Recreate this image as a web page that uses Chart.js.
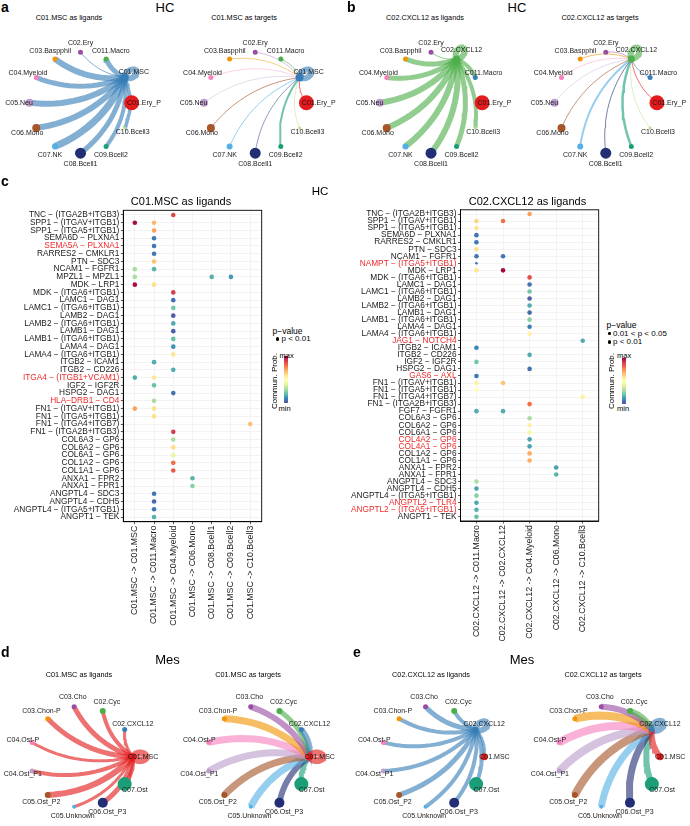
<!DOCTYPE html>
<html><head><meta charset="utf-8">
<script src="https://cdn.jsdelivr.net/npm/chart.js@4.4.1/dist/chart.umd.min.js"></script>
<style>
html,body{margin:0;padding:0;background:#fff}
body{width:690px;height:826px;position:relative;overflow:hidden;font-family:"Liberation Sans",Arial,sans-serif;color:#000}
canvas{position:absolute}
.t{position:absolute;line-height:1;white-space:nowrap}
</style></head><body>
<script>
// ================= DATA =================
const palette = ['#E41A1C','#377EB8','#4DAF4A','#984EA3','#F29403','#F781BF','#BC9DCC','#A65628','#54B0E4','#222F75','#1B9E77','#B2DF8A'];

// HC circle plots (panels a, b)
const hcGroupsA = ["C01.Ery_P","C01.MSC","C011.Macro","C02.Ery","C03.Baspphil","C04.Myeloid","C05.Neu","C06.Mono","C07.NK","C08.Bcell1","C09.Bcell2","C10.Bcell3"];
const hcGroupsB = ["C01.Ery_P","C011.Macro","C02.CXCL12","C02.Ery","C03.Baspphil","C04.Myeloid","C05.Neu","C06.Mono","C07.NK","C08.Bcell1","C09.Bcell2","C10.Bcell3"];
const hcSizesA = [7.5,4,2.5,2.5,2.5,2.5,4,4,3,5.5,2.5,1.5];
const hcSizesB = [7.5,2.5,3.5,2.5,2.5,2.5,4,4,3,5.5,2.5,1.5];
const aLigandW = [0,6,5,1,6,5,6,6,7,5,4,3.5];
const aTargetW = [1,6,1,0.6,0.8,0.6,0.6,1,1,0.8,2,0.8];
const bLigandW = [0,4,6,1,5,5,6,6,6,6,5,4];
const bTargetW = [1,1,6,0.8,1,0.6,0.6,1,2,1,2.5,0.8];

// Mes circle plots (panels d, e)
const mesGroups = ["C01.MSC","C02.CXCL12","C02.Cyc","C03.Cho","C03.Chon-P","C04.Ost-P","C04.Ost_P1","C05.Ost_P2","C05.Unknown","C06.Ost_P3","C07.Ost"];
const mesSizes = [3.5,2.5,3,2.5,2.5,2.5,2.5,3,2,5,7];
const dLigandW = [7,3,4,5,5,3,4,6,3,5,4];
const dTargetW = [7,6,5,6,7,7,7,7,7,6,5];
const eLigandW = [3,6,4,5,4,4,4,5,4,4,4];
const eTargetW = [6,7,6,6,8,8,8,8,7,7,6];

// Panel c, left dot plot
const c1Rows = ["TNC − (ITGA2B+ITGB3)","SPP1 − (ITGAV+ITGB1)","SPP1 − (ITGA5+ITGB1)","SEMA6D − PLXNA1","SEMA5A − PLXNA1","RARRES2 − CMKLR1","PTN − SDC3","NCAM1 − FGFR1","MPZL1 − MPZL1","MDK − LRP1","MDK − (ITGA6+ITGB1)","LAMC1 − DAG1","LAMC1 − (ITGA6+ITGB1)","LAMB2 − DAG1","LAMB2 − (ITGA6+ITGB1)","LAMB1 − DAG1","LAMB1 − (ITGA6+ITGB1)","LAMA4 − DAG1","LAMA4 − (ITGA6+ITGB1)","ITGB2 − ICAM1","ITGB2 − CD226","ITGA4 − (ITGB1+VCAM1)","IGF2 − IGF2R","HSPG2 − DAG1","HLA−DRB1 − CD4","FN1 − (ITGAV+ITGB1)","FN1 − (ITGA5+ITGB1)","FN1 − (ITGA4+ITGB7)","FN1 − (ITGA2B+ITGB3)","COL6A3 − GP6","COL6A2 − GP6","COL6A1 − GP6","COL1A2 − GP6","COL1A1 − GP6","ANXA1 − FPR2","ANXA1 − FPR1","ANGPTL4 − SDC3","ANGPTL4 − CDH5","ANGPTL4 − (ITGA5+ITGB1)","ANGPT1 − TEK"];
const c1Red = [4,21,24];
const c1Cols = ["C01.MSC -> C01.MSC","C01.MSC -> C011.Macro","C01.MSC -> C04.Myeloid","C01.MSC -> C06.Mono","C01.MSC -> C08.Bcell1","C01.MSC -> C09.Bcell2","C01.MSC -> C10.Bcell3"];
// [row, col, scaled prob (0=min,1=max), p<0.01 ? 1 : 0]
const c1Dots = [[0,2,0.88,1],[1,0,0.98,1],[1,1,0.68,1],[2,1,0.72,1],[3,1,0.07,1],[4,1,0.07,1],[5,1,0.07,1],[6,1,0.66,1],[7,0,0.3,1],[7,1,0.18,1],[8,0,0.3,1],[8,4,0.17,1],[8,5,0.13,1],[9,0,0.98,1],[9,1,0.6,1],[10,2,0.9,1],[11,2,0.06,1],[12,2,0.22,1],[13,2,0.02,1],[14,2,0.16,1],[15,2,0.03,1],[16,2,0.2,1],[17,2,0.12,1],[18,2,0.58,1],[19,1,0.16,1],[20,2,0.16,1],[21,0,0.16,1],[21,1,0.58,1],[22,1,0.2,1],[23,2,0.06,1],[24,1,0.3,1],[25,0,0.72,1],[25,1,0.6,1],[26,1,0.6,1],[27,6,0.66,1],[28,2,0.9,1],[29,2,0.3,1],[30,2,0.6,1],[31,2,0.42,1],[32,2,0.8,1],[33,2,0.84,1],[34,3,0.18,1],[35,3,0.25,1],[36,1,0.07,1],[37,1,0.04,1],[38,1,0.07,1],[39,1,0.17,1]];

// Panel c, right dot plot
const c2Rows = ["TNC − (ITGA2B+ITGB3)","SPP1 − (ITGAV+ITGB1)","SPP1 − (ITGA5+ITGB1)","SEMA6D − PLXNA1","RARRES2 − CMKLR1","PTN − SDC3","NCAM1 − FGFR1","NAMPT − (ITGA5+ITGB1)","MDK − LRP1","MDK − (ITGA6+ITGB1)","LAMC1 − DAG1","LAMC1 − (ITGA6+ITGB1)","LAMB2 − DAG1","LAMB2 − (ITGA6+ITGB1)","LAMB1 − DAG1","LAMB1 − (ITGA6+ITGB1)","LAMA4 − DAG1","LAMA4 − (ITGA6+ITGB1)","JAG1 − NOTCH4","ITGB2 − ICAM1","ITGB2 − CD226","IGF2 − IGF2R","HSPG2 − DAG1","GAS6 − AXL","FN1 − (ITGAV+ITGB1)","FN1 − (ITGA5+ITGB1)","FN1 − (ITGA4+ITGB7)","FN1 − (ITGA2B+ITGB3)","FGF7 − FGFR1","COL6A3 − GP6","COL6A2 − GP6","COL6A1 − GP6","COL4A2 − GP6","COL4A1 − GP6","COL1A2 − GP6","COL1A1 − GP6","ANXA1 − FPR2","ANXA1 − FPR1","ANGPTL4 − SDC3","ANGPTL4 − CDH5","ANGPTL4 − (ITGA5+ITGB1)","ANGPTL2 − TLR4","ANGPTL2 − (ITGA5+ITGB1)","ANGPT1 − TEK"];
const c2Red = [7,18,23,32,33,41,42];
const c2Cols = ["C02.CXCL12 -> C011.Macro","C02.CXCL12 -> C02.CXCL12","C02.CXCL12 -> C04.Myeloid","C02.CXCL12 -> C06.Mono","C02.CXCL12 -> C10.Bcell3"];
const c2Dots = [[0,2,0.72,1],[1,0,0.62,1],[1,1,0.8,1],[2,0,0.58,1],[3,0,0.07,1],[4,0,0.07,1],[5,0,0.6,1],[6,0,0.07,1],[6,1,0.07,1],[7,0,0.05,0],[8,0,0.58,1],[8,1,0.99,1],[9,2,0.86,1],[10,2,0.06,1],[11,2,0.22,1],[12,2,0.03,1],[13,2,0.16,1],[14,2,0.05,1],[15,2,0.25,1],[16,2,0.08,1],[17,2,0.55,1],[18,4,0.16,1],[19,0,0.1,1],[20,2,0.16,1],[21,0,0.22,1],[22,2,0.06,1],[23,0,0.07,1],[24,0,0.55,1],[24,1,0.66,1],[25,0,0.5,1],[26,4,0.55,1],[27,2,0.8,1],[28,0,0.16,1],[28,1,0.16,1],[29,2,0.3,1],[30,2,0.55,1],[31,2,0.45,1],[32,2,0.15,1],[33,2,0.15,1],[34,2,0.7,1],[35,2,0.7,1],[36,3,0.14,1],[37,3,0.18,1],[38,0,0.3,1],[39,0,0.15,1],[40,0,0.25,1],[41,0,0.15,1],[42,0,0.17,1],[43,0,0.2,1]];

const spectralR = ['#5E4FA2','#3288BD','#66C2A5','#ABDDA4','#E6F598','#FFFFBF','#FEE08B','#FDAE61','#F46D43','#D53E4F','#9E0142'];

// ================= HELPERS =================
const FONT = '"Liberation Sans", Arial, sans-serif';
function hex2rgb(h){return [parseInt(h.slice(1,3),16),parseInt(h.slice(3,5),16),parseInt(h.slice(5,7),16)];}
function rgba(h,a){const c=hex2rgb(h);return `rgba(${c[0]},${c[1]},${c[2]},${a})`;}
function spec(v){
  const t=Math.max(0,Math.min(1,v))*(spectralR.length-1), i=Math.min(Math.floor(t),spectralR.length-2), f=t-i;
  const a=hex2rgb(spectralR[i]), b=hex2rgb(spectralR[i+1]);
  return `rgb(${Math.round(a[0]+(b[0]-a[0])*f)},${Math.round(a[1]+(b[1]-a[1])*f)},${Math.round(a[2]+(b[2]-a[2])*f)})`;
}
function txt(s,x,base,size,o={}){
  const d=document.createElement('div');d.className='t';d.textContent=s;
  d.style.fontSize=size+'px';d.style.top=(base-0.8465*size)+'px';d.style.left=x+'px';
  if(o.bold)d.style.fontWeight='bold';
  if(o.center)d.style.transform='translateX(-50%)';
  document.body.appendChild(d);return d;
}
function vtxt(s,cx,cy,size){
  const d=document.createElement('div');d.className='t';d.textContent=s;d.style.fontSize=size+'px';
  d.style.left=cx+'px';d.style.top=cy+'px';d.style.transform='translate(-50%,-50%) rotate(-90deg)';
  document.body.appendChild(d);
}
function mkCanvas(l,t,w,h){
  const c=document.createElement('canvas');c.width=w;c.height=h;
  c.style.left=l+'px';c.style.top=t+'px';c.style.width=w+'px';c.style.height=h+'px';
  document.body.appendChild(c);return c;
}
function bezier(p0,p1,k){
  const mx=(p0.x+p1.x)/2,my=(p0.y+p1.y)/2,dx=p1.x-p0.x,dy=p1.y-p0.y;
  const c={x:mx-dy*k,y:my+dx*k};const pts=[];
  for(let i=0;i<=16;i++){const t=i/16,u=1-t;pts.push({x:u*u*p0.x+2*u*t*c.x+t*t*p1.x,y:u*u*p0.y+2*u*t*c.y+t*t*p1.y});}
  return pts;
}

// ================= CIRCLE PLOTS =================
function circlePlot(box,cx,cy,R,groups,sizes,center,mode,widths){
  const [L,T,W,H]=box;
  const cv=mkCanvas(L,T,W,H);
  const n=groups.length;
  const ang=groups.map((g,i)=>2*Math.PI*i/n);
  const pos=ang.map(a=>({x:Math.cos(a),y:Math.sin(a)}));
  const colors=groups.map((g,i)=>palette[i]);
  const ds=[{data:pos,pointRadius:sizes,pointBackgroundColor:colors,pointBorderWidth:0,showLine:false,order:0}];
  groups.forEach((g,j)=>{
    const w=widths[j]; if(!(w>0))return;
    if(j===center){
      const a=ang[j],u={x:Math.cos(a),y:Math.sin(a)},v={x:-Math.sin(a),y:Math.cos(a)};
      const ra=0.12,rb=0.075,off=ra+sizes[j]*0.3/R;
      const c={x:pos[j].x+u.x*off,y:pos[j].y+u.y*off};const pts=[];
      for(let i=0;i<=28;i++){const t=2*Math.PI*i/28;pts.push({x:c.x+u.x*ra*Math.cos(t)+v.x*rb*Math.sin(t),y:c.y+u.y*ra*Math.cos(t)+v.y*rb*Math.sin(t)});}
      ds.push({data:pts,showLine:true,borderColor:rgba(colors[center],0.62),borderWidth:w,pointRadius:0,tension:0,borderJoinStyle:'round',order:1});
    } else {
      const from=mode==='lig'?pos[center]:pos[j],to=mode==='lig'?pos[j]:pos[center];
      const col=mode==='lig'?colors[center]:colors[j];
      ds.push({data:bezier(from,to,0.2),showLine:true,borderColor:rgba(col,0.62),borderWidth:w,pointRadius:0,tension:0,order:1});
    }
  });
  new Chart(cv,{type:'scatter',data:{datasets:ds},
    options:{responsive:false,animation:false,events:[],layout:{padding:0},
      plugins:{legend:{display:false},tooltip:{enabled:false}},
      scales:{x:{type:'linear',display:false,min:(L-cx)/R,max:(L+W-cx)/R},
              y:{type:'linear',display:false,min:(cy-(T+H))/R,max:(cy-T)/R}}},
    plugins:[{id:'labels',afterDatasetsDraw(ch){
      const ctx=ch.ctx,xs=ch.scales.x,ys=ch.scales.y;ctx.save();
      ctx.font='7px '+FONT;ctx.fillStyle='#1a1a1a';ctx.textAlign='center';ctx.textBaseline='middle';
      groups.forEach((g,i)=>{const d=(9+sizes[i]*0.6)/R;
        ctx.fillText(g,xs.getPixelForValue(pos[i].x+Math.cos(ang[i])*d),ys.getPixelForValue(pos[i].y+Math.sin(ang[i])*d));});
      ctx.restore();}}]
  });
}

// ================= DOT PLOTS =================
const framePlugin={id:'frame',beforeDatasetsDraw(ch){const a=ch.chartArea,ctx=ch.ctx;ctx.save();ctx.strokeStyle='#000';ctx.lineWidth=0.9;ctx.strokeRect(a.left,a.top,a.right-a.left,a.bottom-a.top);ctx.restore();}};
function dotPlot(box,rows,cols,dots,redRows,yW,xH,padTop,padRight){
  const cv=mkCanvas(...box);
  const tickCommon={autoSkip:false,font:{family:FONT,size:8.3}};
  new Chart(cv,{type:'scatter',
    data:{datasets:[{data:dots.map(d=>({x:d[1],y:d[0]})),pointRadius:dots.map(d=>d[3]?2.3:1.3),
      pointBackgroundColor:dots.map(d=>spec(d[2])),pointBorderWidth:0,pointHoverRadius:0}]},
    options:{responsive:false,animation:false,events:[],layout:{padding:{top:padTop,right:padRight,left:0,bottom:0}},
      plugins:{legend:{display:false},tooltip:{enabled:false}},
      scales:{
        x:{type:'linear',min:-0.6,max:cols.length-0.4,
          afterBuildTicks:s=>{s.ticks=cols.map((c,i)=>({value:i}));},afterFit:s=>{s.height=xH;},
          ticks:{autoSkip:false,maxRotation:90,minRotation:90,padding:1.5,color:'#1a1a1a',font:{family:FONT,size:8.8},callback:(v,i)=>cols[i]},
          grid:{color:'#EBEBEB',lineWidth:0.6,tickLength:2.5,tickColor:'#333',tickWidth:0.8},border:{display:true,color:'#000',width:0.9}},
        y:{type:'linear',reverse:true,min:-0.6,max:rows.length-0.4,
          afterBuildTicks:s=>{s.ticks=rows.map((r,i)=>({value:i}));},afterFit:s=>{s.width=yW;},
          ticks:{...tickCommon,padding:1.5,color:c=>redRows.includes(c.index)?'#EE2A2A':'#1a1a1a',callback:(v,i)=>rows[i]},
          grid:{color:'#EBEBEB',lineWidth:0.6,tickLength:2.5,tickColor:'#333',tickWidth:0.8},border:{display:true,color:'#000',width:0.9}}
      }},
    plugins:[framePlugin]});
}

// ================= PAGE =================
// panel a
txt('a',1,12,14,{bold:true});
txt('HC',165,12.3,13,{center:true});
txt('C01.MSC as ligands',69,20.2,7.3,{center:true});
txt('C01.MSC as targets',244,20.2,7.3,{center:true});
circlePlot([0,24,172,152],80,103,56,hcGroupsA,hcSizesA,1,'lig',aLigandW);
circlePlot([170,24,175,152],255,103,56,hcGroupsA,hcSizesA,1,'tgt',aTargetW);
// panel b
txt('b',347,12,14,{bold:true});
txt('HC',517,12.3,13,{center:true});
txt('C02.CXCL12 as ligands',425,20.2,7.3,{center:true});
txt('C02.CXCL12 as targets',600,20.2,7.3,{center:true});
circlePlot([345,24,172,152],431,103,56,hcGroupsB,hcSizesB,2,'lig',bLigandW);
circlePlot([517,24,173,152],606,103,56,hcGroupsB,hcSizesB,2,'tgt',bTargetW);

// panel c
txt('c',1,186,14,{bold:true});
txt('HC',320,195.5,11.5,{center:true});
txt('C01.MSC as ligands',181,205,11,{center:true});
txt('C02.CXCL12 as ligands',527.5,205,11,{center:true});
dotPlot([0,200,264,450],c1Rows,c1Cols,c1Dots,c1Red,123.3,128.3,10.3,0.6);
dotPlot([338,200,263,450],c2Rows,c2Cols,c2Dots,c2Red,122.5,129,9.8,1);

// legends (panel c)
function dot(x,y,r){const d=document.createElement('div');d.style.cssText=`position:absolute;left:${x-r}px;top:${y-r}px;width:${2*r}px;height:${2*r}px;border-radius:50%;background:#000`;document.body.appendChild(d);}
function cbar(x,y,w,h){const d=document.createElement('div');d.style.cssText=`position:absolute;left:${x}px;top:${y}px;width:${w}px;height:${h}px;background:linear-gradient(to top,${spectralR.join(',')})`;document.body.appendChild(d);}
txt('p−value',272.5,334.5,8.5);
dot(277.7,339,1.8);txt('p < 0.01',281.5,342,8);
cbar(284,356,3.5,47);
txt('max',279.5,358.5,7.5);txt('min',278.5,411,7.5);
vtxt('Commun. Prob.',275,381,8);

txt('p−value',606.5,328.5,8.5);
dot(609.5,333.5,1.2);txt('0.01 < p < 0.05',613,336.5,8);
dot(609.5,342,1.8);txt('p < 0.01',613,345,8);
cbar(622,358,3.5,46);
txt('max',617,358.5,7.5);txt('min',617,411,7.5);
vtxt('Commun. Prob.',612,381,8);

// panel d
txt('d',1,657,14,{bold:true});
txt('Mes',167.5,664.3,13,{center:true});
txt('C01.MSC as ligands',79,677.5,7.3,{center:true});
txt('C01.MSC as targets',248,677.5,7.3,{center:true});
circlePlot([0,684,172,142],81,757,56,mesGroups,mesSizes,0,'lig',dLigandW);
circlePlot([172,684,173,142],258,757,56,mesGroups,mesSizes,0,'tgt',dTargetW);
// panel e
txt('e',353,657,14,{bold:true});
txt('Mes',522,664.3,13,{center:true});
txt('C02.CXCL12 as ligands',431,677.5,7.3,{center:true});
txt('C02.CXCL12 as targets',603,677.5,7.3,{center:true});
circlePlot([345,684,172,142],433,757,56,mesGroups,mesSizes,1,'lig',eLigandW);
circlePlot([517,684,173,142],609,757,56,mesGroups,mesSizes,1,'tgt',eTargetW);
</script>
</body></html>
